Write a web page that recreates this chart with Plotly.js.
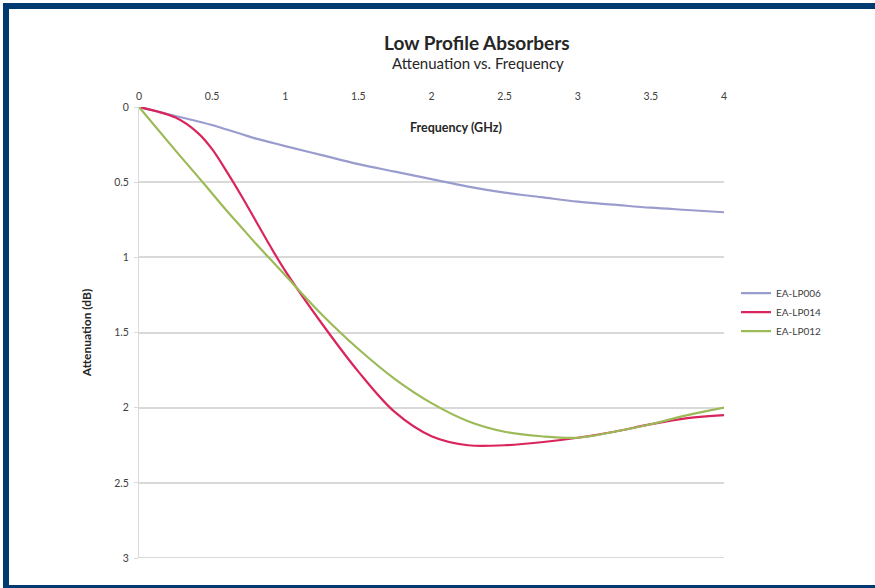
<!DOCTYPE html>
<html>
<head>
<meta charset="utf-8">
<script src="https://cdn.plot.ly/plotly-3.0.1.min.js"></script>
<style>
  html, body { margin: 0; padding: 0; background: #ffffff; width: 875px; height: 588px; overflow: hidden; }
  #frame { position: absolute; left: 3px; top: 3px; width: 900px; height: 586px; border-left: 6px solid #003a70; border-top: 6px solid #003a70; border-bottom: 4px solid #003a70; box-sizing: border-box; }
  #chart { position: absolute; left: 0; top: 0; width: 875px; height: 588px; }
</style>
</head>
<body>
<div id="frame"></div>
<div id="chart"></div>
<script>
// Frequency (GHz)
const freq = [0, 0.25, 0.4, 0.5, 0.6, 0.7, 0.8, 0.9, 1.0, 1.25, 1.5, 1.75, 2.0, 2.25, 2.5, 2.75, 3.0, 3.25, 3.5, 3.75, 4.0];
// Attenuation (dB)
const lp006 = [0, 0.06, 0.095, 0.12, 0.15, 0.18, 0.21, 0.235, 0.26, 0.32, 0.38, 0.43, 0.48, 0.53, 0.57, 0.60, 0.63, 0.65, 0.67, 0.685, 0.70];
const lp014 = [0, 0.07, 0.17, 0.28, 0.43, 0.59, 0.76, 0.93, 1.09, 1.44, 1.76, 2.03, 2.19, 2.25, 2.25, 2.23, 2.20, 2.16, 2.11, 2.07, 2.05];
const lp012 = [0, 0.29, 0.46, 0.575, 0.69, 0.80, 0.91, 1.015, 1.12, 1.38, 1.61, 1.81, 1.97, 2.09, 2.16, 2.19, 2.20, 2.16, 2.11, 2.05, 2.00];
const seriesNames = ["EA-LP006", "EA-LP014", "EA-LP012"];
const xTicks = [0, 0.5, 1, 1.5, 2, 2.5, 3, 3.5, 4];
const xTickText = ["0", "0.5", "1", "1.5", "2", "2.5", "3", "3.5", "4"];
const yTicks = [0, 0.5, 1, 1.5, 2, 2.5, 3];
const yTickText = ["0", "0.5", "1", "1.5", "2", "2.5", "3"];

const colors = ["#9a9ccd", "#d9255c", "#9cba57"];
const ys = [lp006, lp014, lp012];

const traces = ys.map((y, i) => ({
  x: freq, y: y, name: seriesNames[i], type: "scatter", mode: "lines",
  line: { color: colors[i], width: 2.2, shape: "spline", smoothing: 1 }
}));

const font = "Lato, 'Open Sans', sans-serif";
const layout = {
  width: 875, height: 588,
  paper_bgcolor: "rgba(0,0,0,0)", plot_bgcolor: "rgba(0,0,0,0)",
  margin: { l: 139, r: 151, t: 107, b: 30 },
  font: { family: font, color: "#404040", size: 10 },
  title: {
    text: "<b>Low Profile Absorbers</b>",
    font: { family: font, size: 19, color: "#262626" },
    x: 0.545, xanchor: "center", xref: "container", y: 0.927, yanchor: "middle", yref: "container"
  },
  xaxis: {
    side: "top", range: [0, 4], tickvals: xTicks, ticktext: xTickText,
    showgrid: false, zeroline: false, showline: false, ticks: "",
    tickfont: { family: font, size: 10.5, color: "#404040" }, ticklabelstandoff: 4
  },
  yaxis: {
    range: [3, 0], tickvals: yTicks, ticktext: yTickText,
    showgrid: true, gridcolor: "#d9d9d9", gridwidth: 2, zeroline: false,
    showline: true, linecolor: "#d9d9d9", linewidth: 1,
    ticks: "outside", ticklen: 4, tickcolor: "#d9d9d9",
    tickfont: { family: font, size: 10.5, color: "#404040" }, ticklabelstandoff: 3,
    title: { text: "<b>Attenuation (dB)</b>", font: { family: font, size: 12, color: "#262626" }, standoff: 20 }
  },
  legend: {
    x: 1.0205, xanchor: "left", y: 0.545, yanchor: "middle",
    font: { family: font, size: 10, color: "#404040" }, tracegroupgap: 0, itemwidth: 30,
    bgcolor: "rgba(0,0,0,0)"
  },
  shapes: [{
    type: "line", xref: "paper", yref: "y", x0: 0, x1: 1, y0: yTicks[yTicks.length - 1], y1: yTicks[yTicks.length - 1],
    line: { color: "#d9d9d9", width: 2 }, layer: "below"
  }],
  annotations: [{
    text: "Attenuation vs. Frequency", xref: "paper", yref: "paper", x: 0.58, y: 1.0976,
    xanchor: "center", yanchor: "middle", showarrow: false,
    font: { family: font, size: 15, color: "#262626" }
  }, {
    text: "<b>Frequency (GHz)</b>", xref: "paper", yref: "paper", x: 0.542, y: 0.955,
    xanchor: "center", yanchor: "middle", showarrow: false,
    font: { family: font, size: 12.5, color: "#262626" }
  }]
};

Plotly.newPlot("chart", traces, layout, { displayModeBar: false, staticPlot: true });
</script>
</body>
</html>
